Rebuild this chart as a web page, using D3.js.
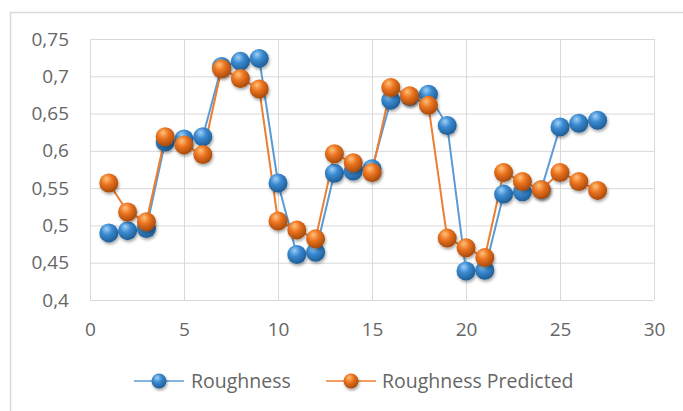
<!DOCTYPE html>
<html>
<head>
<meta charset="utf-8">
<script src="https://cdn.jsdelivr.net/npm/d3@7"></script>
<style>
	body{margin:0;background:#fff;}
	#chart{width:683px;height:411px;}
	text{font-family:"Open Sans",sans-serif;fill:#666;}
</style>
</head>
<body>
<div id="chart"></div>
<script>

const xIdx = d3.range(1,28);

const roughness = [0.490,0.493,0.496,0.612,0.616,0.619,0.713,0.720,0.724,0.557,0.461,0.464,
	0.570,0.573,0.576,0.668,0.673,0.676,0.634,0.439,0.440,0.542,0.545,0.548,0.632,0.637,0.641];

const predicted = [0.557,0.518,0.505,0.619,0.608,0.595,0.710,0.697,0.683,0.506,0.494,0.482,
	0.596,0.584,0.571,0.685,0.674,0.661,0.483,0.470,0.457,0.571,0.559,0.548,0.571,0.559,0.547];

const xTicks = [0,5,10,15,20,25,30];
const yTicks = [0.4,0.45,0.5,0.55,0.6,0.65,0.7,0.75];

const seriesNames = ["Roughness","Roughness Predicted"];

function drawChart(rootDOM){

	const W = 683, H = 411;
	const m = {t:39,r:29,b:111,l:90};

	const svg = d3.select(rootDOM).append("svg")
		.attr("width",W)
		.attr("height",H);

	const defs = svg.append("defs");
	const colors = [
		{line:"#5b9bd5", light:"#9fd0f5", mid:"#3a8ad2", dark:"#1f5e96"},
		{line:"#ed7d31", light:"#ffc27a", mid:"#ec7420", dark:"#a84a0c"}
	];
	colors.forEach((c,i) => {
		const g = defs.append("radialGradient")
			.attr("id","ball"+i)
			.attr("cx","40%").attr("cy","35%").attr("r","65%")
			.attr("fx","38%").attr("fy","28%");
		g.append("stop").attr("offset","0%").attr("stop-color",c.light);
		g.append("stop").attr("offset","45%").attr("stop-color",c.mid);
		g.append("stop").attr("offset","100%").attr("stop-color",c.dark);
	});
	const f = defs.append("filter").attr("id","shadow")
		.attr("x","-50%").attr("y","-50%").attr("width","200%").attr("height","200%");
	f.append("feDropShadow").attr("dx",1).attr("dy",2).attr("stdDeviation",1.5)
		.attr("flood-color","#000").attr("flood-opacity",0.35);

	// chart border
	svg.append("rect")
		.attr("x",10.5).attr("y",12.5)
		.attr("width",W).attr("height",H)
		.attr("fill","none")
		.attr("stroke","#d9d9d9")
		.attr("stroke-width",1.5);

	const x = d3.scaleLinear().domain([0,30]).range([m.l, W-m.r]);
	const y = d3.scaleLinear().domain([0.4,0.75]).range([H-m.b, m.t]);

	const fmt = d => d3.format(".2~f")(d).replace(".",",");

	// gridlines
	svg.append("g")
		.attr("transform",`translate(0,${H-m.b})`)
		.call(d3.axisBottom(x).tickValues(xTicks).tickSize(-(H-m.b-m.t)).tickFormat(d=>d))
		.call(g => g.select(".domain").remove())
		.call(g => g.selectAll("line").attr("stroke","#d9d9d9"))
		.call(g => g.selectAll("text").attr("dy",0).attr("y",36).attr("font-size",19).attr("fill","#666"));

	svg.append("g")
		.attr("transform",`translate(${m.l},0)`)
		.call(d3.axisLeft(y).tickValues(yTicks).tickSize(-(W-m.r-m.l)).tickFormat(fmt))
		.call(g => g.select(".domain").remove())
		.call(g => g.selectAll("line").attr("stroke","#d9d9d9"))
		.call(g => g.selectAll("text").attr("x",-21).attr("font-size",19).attr("fill","#666"));

	const line = d3.line().x((d,i)=>x(xIdx[i])).y(d=>y(d));

	[roughness,predicted].forEach((vals,k) => {
		svg.append("path")
			.datum(vals)
			.attr("d",line)
			.attr("fill","none")
			.attr("stroke",colors[k].line)
			.attr("stroke-width",2);
	});

	[roughness,predicted].forEach((vals,k) => {
		svg.append("g").selectAll("circle")
			.data(vals)
			.enter()
			.append("circle")
			.attr("cx",(d,i)=>x(xIdx[i]))
			.attr("cy",d=>y(d))
			.attr("r",9.5)
			.attr("fill",`url(#ball${k})`)
			.attr("filter","url(#shadow)");
	});

	// legend
	const legendPos = [{x:134,tx:191},{x:326,tx:382}];
	const ly = 381;
	seriesNames.forEach((name,k) => {
		const g = svg.append("g");
		g.append("line")
			.attr("x1",legendPos[k].x).attr("x2",legendPos[k].x+50)
			.attr("y1",ly).attr("y2",ly)
			.attr("stroke",colors[k].line).attr("stroke-width",1.3);
		g.append("circle")
			.attr("cx",legendPos[k].x+25).attr("cy",ly)
			.attr("r",7.5)
			.attr("fill",`url(#ball${k})`)
			.attr("filter","url(#shadow)");
		g.append("text")
			.attr("x",legendPos[k].tx).attr("y",ly)
			.attr("dy","0.35em")
			.attr("font-size",19.5)
			.text(name);
	});
}

drawChart(document.getElementById("chart"));
</script>
</body>
</html>
